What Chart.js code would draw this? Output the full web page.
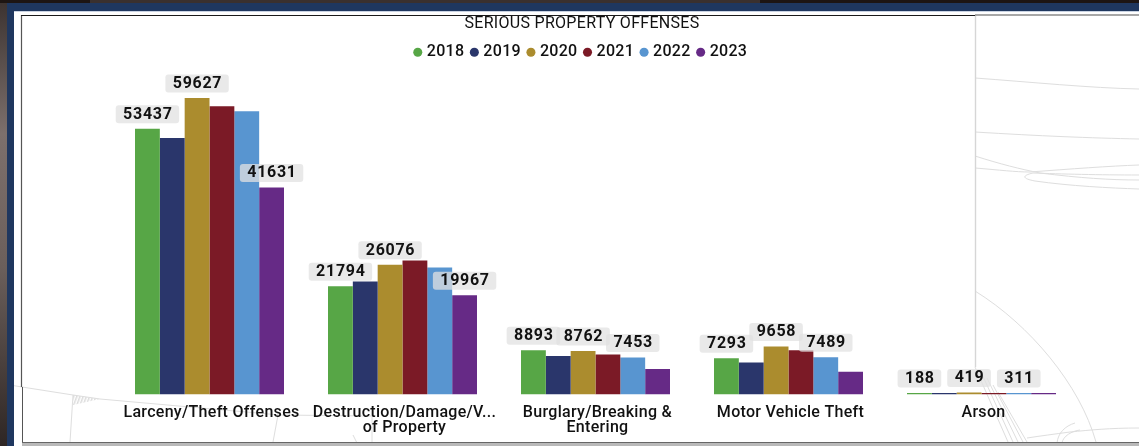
<!DOCTYPE html>
<html><head><meta charset="utf-8">
<style>
html,body{margin:0;padding:0;width:1139px;height:446px;overflow:hidden;background:#fff}
#bg{position:absolute;left:0;top:0}
#wrap{position:absolute;left:25px;top:0;width:1114px;height:446px}
</style>
<script src="https://cdn.jsdelivr.net/npm/chart.js@4"></script>
</head><body>
<svg id="bg" width="1139" height="446" xmlns="http://www.w3.org/2000/svg">
<defs>
<linearGradient id="lg" x1="0" y1="0" x2="0" y2="1"><stop offset="0" stop-color="#3b3230"/><stop offset=".3" stop-color="#7d706c"/><stop offset=".6" stop-color="#6b5f5b"/><stop offset="1" stop-color="#2e2624"/></linearGradient>
<pattern id="h" width="3" height="3" patternUnits="userSpaceOnUse" patternTransform="rotate(20)"><rect width="1.5" height="3" fill="#dcdcdc"/></pattern>
</defs>
<rect x="0" y="0" width="7" height="446" fill="url(#lg)"/>
<rect x="0" y="0" width="1139" height="3" fill="#1d1513"/>
<rect x="90" y="0" width="670" height="3" fill="#3a302e"/>
<rect x="7" y="3" width="1132" height="8" fill="#1f375f"/>
<rect x="7" y="3" width="7" height="443" fill="#1f375f"/>
<rect x="14" y="11" width="1125" height="1" fill="#c9d3e2"/>
<g fill="none" stroke="#dedede" stroke-width="1">
<path d="M14 385.7 L22 387 L73 395 L100 399 L280 415 L372 416"/>
<path d="M73 395 L70 442 M278 415 L273 442 M372 416 L372 442 M353 435 L358 445"/>
<path d="M975 78 C1030 82 1090 88 1139 89"/>
<path d="M975 132 C1040 136 1090 138 1139 139"/>
<path d="M975 168 C1000 170 1015 172 1030 172 C1070 169 1110 166 1139 165"/>
<path d="M975 156 C1000 164 1020 169 1040 173 C1080 178 1110 180 1139 180"/>
<path d="M1139 175 C1100 175 1060 174 1033 173 C1020 176 1024 179 1035 181 C1070 186 1110 188 1139 189"/>
<path d="M975 291 C1030 325 1080 385 1096 442"/>
<path d="M975 367 L1008 442 M981 372 L1013 442 M987 378 L1018 442 M993 385 L1023 442 M998 392 L1027 442"/>
<path d="M1139 428 C1110 428 1090 430 1070 432 C1055 434 1040 436 1027 438"/>
<path d="M1075 423 C1065 426 1058 433 1057 443 M1080 430 C1072 431 1063 436 1062 443"/>
</g>
<path d="M73 395 L100 399 L73 405 Z" fill="url(#h)"/>
<line x1="975.5" y1="15" x2="975.5" y2="367" stroke="#d6d6d6" stroke-width="1.4"/>
<line x1="21.5" y1="15" x2="21.5" y2="387" stroke="#555" stroke-width="1.2"/>
<line x1="22.5" y1="387" x2="22.5" y2="442" stroke="#555" stroke-width="1"/>
<line x1="21" y1="15.5" x2="975" y2="15.5" stroke="#1a1a1a" stroke-width="1"/>
<line x1="975" y1="15" x2="1139" y2="15" stroke="#8a8a8a" stroke-width="1.4"/>
<line x1="22" y1="442.5" x2="1139" y2="442.5" stroke="#666" stroke-width="1"/>
<rect x="22" y="443" width="1117" height="3" fill="#b9b9b9"/>
</svg>
<div id="wrap"><canvas id="c" width="1114" height="446"></canvas></div>
<script>
const categories = [['Larceny/Theft Offenses'], ['Destruction/Damage/V...', 'of Property'], ['Burglary/Breaking &', 'Entering'], ['Motor Vehicle Theft'], ['Arson']];
const years = ['2018', '2019', '2020', '2021', '2022', '2023'];
const colors = ['#57a646', '#2a366b', '#ab8c2e', '#7b1a26', '#5895d0', '#662a86'];
const v2018 = [53437, 21794, 8893, 7293, 188];
const v2019 = [51600, 22740, 7750, 6440, 190];
const v2020 = [59627, 26076, 8762, 9658, 419];
const v2021 = [57950, 26960, 8050, 8900, 280];
const v2022 = [56940, 25550, 7453, 7489, 311];
const v2023 = [41631, 19967, 5130, 4600, 200];
const series = [v2018, v2019, v2020, v2021, v2022, v2023];
const labelled = [[0, 2, 5], [0, 2, 5], [0, 2, 4], [0, 2, 4], [0, 2, 4]];
const FONT = 'Roboto, "Noto Sans", sans-serif';

const spacing = {
  id: 'spacing',
  beforeUpdate(c) { c.ctx.letterSpacing = '0.3px'; },
  beforeDraw(c) { c.ctx.letterSpacing = '0.3px'; }
};
const valueLabels = {
  id: 'valueLabels',
  afterDatasetsDraw(c) {
    const ctx = c.ctx;
    ctx.save();
    ctx.font = '700 16px ' + FONT;
    ctx.letterSpacing = '0.7px';
    ctx.textAlign = 'center';
    ctx.textBaseline = 'middle';
    labelled.forEach((idxs, cat) => idxs.forEach(ds => {
      const bar = c.getDatasetMeta(ds).data[cat];
      const txt = String(series[ds][cat]);
      const w = ctx.measureText(txt).width + 14;
      const h = 18, yb = bar.y - 5.5;
      ctx.fillStyle = 'rgba(225,225,225,0.75)';
      ctx.beginPath();
      ctx.roundRect(bar.x - w / 2, yb - h, w, h, 3);
      ctx.fill();
      ctx.fillStyle = '#111';
      ctx.fillText(txt, bar.x + 0.4, yb - h / 2 + 0.5);
    }));
    ctx.restore();
  }
};

new Chart(document.getElementById('c'), {
  type: 'bar',
  data: {
    labels: categories,
    datasets: years.map((y, i) => ({ label: y, data: series[i], backgroundColor: colors[i], borderWidth: 0, minBarLength: 1.6 }))
  },
  plugins: [spacing, valueLabels],
  options: {
    responsive: false,
    animation: false,
    layout: { padding: 0 },
    datasets: { bar: { barPercentage: 1, categoryPercentage: 0.772 } },
    plugins: {
      tooltip: { enabled: false },
      title: { display: true, text: 'SERIOUS PROPERTY OFFENSES', color: '#111', font: { family: FONT, size: 16, weight: '400' }, padding: { top: 14, bottom: 2 } },
      legend: { display: true, labels: { usePointStyle: true, pointStyle: 'circle', boxWidth: 2, boxHeight: 6.4, padding: 9, color: '#111', font: { family: FONT, size: 16, weight: '500' } } }
    },
    scales: {
      x: {
        grid: { display: false }, border: { display: false },
        ticks: { color: '#111', font: { family: FONT, size: 16, weight: '500', lineHeight: 0.94 }, maxRotation: 0, autoSkip: false, padding: 3, labelOffset: 2 },
        afterFit(s) { s.height = 51.5; }
      },
      y: { position: 'left', min: 0, max: 65220, grid: { display: false }, border: { display: false }, ticks: { display: false }, afterFit(s) { s.width = 88; } },
      yEdge: { position: 'right', min: 0, max: 1, grid: { display: false }, border: { display: false }, ticks: { display: false }, afterFit(s) { s.width = 61; } }
    }
  }
});
</script>
</body></html>
